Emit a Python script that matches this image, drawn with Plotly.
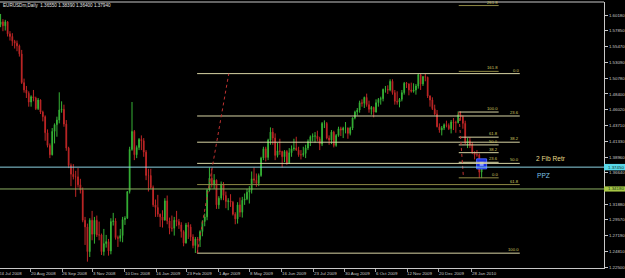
import numpy as np
import plotly.graph_objects as go

# ---------------- data (EURUSDm, 2-trading-day bars from 14 Jul 2008) ----------------
START = '2008-07-14'
first_open = 1.5880
close = [
1.5920,1.5860,1.5920,1.5740,1.5700,1.5630,1.5600,1.5560,1.5440,1.5010,
1.4900,1.4850,1.4720,1.4800,1.4780,1.4620,1.4750,1.4570,1.4500,1.4260,
1.4070,1.3930,1.4280,1.4380,1.4450,1.4600,1.4610,1.4390,1.4030,1.3770,
1.3640,1.3600,1.3600,1.3480,1.3400,1.2950,1.2850,1.2480,1.2950,1.2740,
1.2950,1.2730,1.2730,1.2480,1.2600,1.2630,1.2490,1.2930,1.2940,1.2690,
1.2680,1.2720,1.2960,1.2980,1.3380,1.4010,1.4280,1.3930,1.4040,1.4160,
1.4140,1.3970,1.3620,1.3620,1.3440,1.3180,1.3140,1.3040,1.3000,1.2950,
1.3240,1.2940,1.2830,1.2830,1.2950,1.2930,1.2880,1.2780,1.2610,1.2880,
1.2850,1.2700,1.2570,1.2670,1.2660,1.2780,1.2930,1.3000,1.3400,1.3580,
1.3480,1.3550,1.3180,1.3280,1.3490,1.3320,1.3230,1.3240,1.3220,1.3040,
1.2970,1.3180,1.3070,1.3250,1.3270,1.3370,1.3400,1.3570,1.3550,1.3500,
1.3620,1.3880,1.4020,1.3890,1.4150,1.4270,1.4180,1.3920,1.3990,1.3980,
1.3900,1.3980,1.3800,1.3960,1.4020,1.4030,1.4000,1.3930,1.3930,1.3950,
1.4030,1.4130,1.4200,1.4210,1.4210,1.4170,1.4090,1.4400,1.4400,1.4180,
1.4150,1.4270,1.4070,1.4220,1.4320,1.4300,1.4330,1.4330,1.4250,1.4330,
1.4480,1.4570,1.4600,1.4710,1.4700,1.4790,1.4680,1.4610,1.4640,1.4570,
1.4710,1.4760,1.4770,1.4910,1.4910,1.4900,1.5030,1.4860,1.4730,1.4720,
1.4760,1.4860,1.5000,1.4990,1.4900,1.4880,1.4900,1.4960,1.5130,1.4990,
1.5100,1.5090,1.4810,1.4750,1.4620,1.4540,1.4350,1.4300,1.4330,1.4380,
1.4370,1.4320,1.4420,1.4410,1.4410,1.4530,1.4500,1.4400,1.4110,1.4140,
1.4080,1.3970,1.3930,1.3930,1.3670,1.3794]
high = [
1.6038,1.5960,1.5950,1.5930,1.5780,1.5750,1.5650,1.5640,1.5580,1.5500,
1.5070,1.4960,1.4880,1.4820,1.4900,1.4800,1.4780,1.4760,1.4590,1.4520,
1.4310,1.4100,1.4330,1.4400,1.4500,1.4865,1.4730,1.4680,1.4450,1.4050,
1.3800,1.3790,1.3690,1.3730,1.3570,1.3440,1.3000,1.2900,1.2980,1.3090,
1.3000,1.3020,1.2930,1.2750,1.2820,1.2730,1.2670,1.2980,1.3060,1.2980,
1.2720,1.2820,1.3000,1.3010,1.3380,1.4050,1.4720,1.4300,1.4070,1.4180,
1.4220,1.4180,1.4000,1.3720,1.3720,1.3470,1.3260,1.3330,1.3050,1.3100,
1.3280,1.3320,1.2990,1.3020,1.3000,1.3090,1.2970,1.2920,1.2800,1.2910,
1.2920,1.2890,1.2740,1.2700,1.2700,1.2800,1.2950,1.3050,1.3420,1.3740,
1.3720,1.3640,1.3560,1.3310,1.3530,1.3520,1.3380,1.3280,1.3340,1.3240,
1.3070,1.3220,1.3290,1.3300,1.3350,1.3420,1.3460,1.3680,1.3740,1.3650,
1.3650,1.3900,1.4050,1.4050,1.4170,1.4340,1.4330,1.4250,1.4110,1.4170,
1.3990,1.4000,1.4000,1.4030,1.4070,1.4170,1.4200,1.4050,1.4000,1.4050,
1.4080,1.4160,1.4220,1.4250,1.4270,1.4290,1.4200,1.4420,1.4445,1.4420,
1.4220,1.4300,1.4290,1.4240,1.4350,1.4350,1.4350,1.4420,1.4340,1.4350,
1.4490,1.4590,1.4630,1.4740,1.4760,1.4800,1.4845,1.4740,1.4660,1.4650,
1.4760,1.4780,1.4800,1.4920,1.4960,1.4970,1.5060,1.5060,1.4900,1.4880,
1.4780,1.4900,1.5020,1.5020,1.5000,1.5010,1.5000,1.4990,1.5145,1.5140,
1.5110,1.5140,1.5100,1.4820,1.4790,1.4680,1.4600,1.4400,1.4360,1.4400,
1.4440,1.4400,1.4450,1.4480,1.4440,1.4580,1.4580,1.4520,1.4440,1.4180,
1.4190,1.4120,1.3980,1.4000,1.3950,1.3839]
low = [
1.5840,1.5780,1.5790,1.5700,1.5640,1.5560,1.5520,1.5480,1.5400,1.4990,
1.4860,1.4780,1.4650,1.4650,1.4730,1.4600,1.4600,1.4540,1.4430,1.4140,
1.4040,1.3880,1.3920,1.4100,1.4200,1.4400,1.4560,1.4350,1.3990,1.3730,
1.3460,1.3560,1.3300,1.3440,1.3350,1.2920,1.2580,1.2330,1.2400,1.2650,
1.2600,1.2700,1.2650,1.2430,1.2420,1.2540,1.2420,1.2440,1.2870,1.2660,
1.2550,1.2630,1.2620,1.2880,1.2970,1.3350,1.3990,1.3850,1.3880,1.4000,
1.4000,1.3900,1.3550,1.3380,1.3420,1.3150,1.3000,1.3000,1.2850,1.2840,
1.2950,1.2890,1.2740,1.2780,1.2720,1.2860,1.2820,1.2690,1.2560,1.2600,
1.2670,1.2640,1.2530,1.2460,1.2460,1.2550,1.2710,1.2860,1.2950,1.3380,
1.3440,1.3420,1.3120,1.3120,1.3250,1.3250,1.3130,1.3100,1.3150,1.3020,
1.2890,1.2900,1.3000,1.2990,1.3180,1.3250,1.3200,1.3350,1.3500,1.3450,
1.3460,1.3600,1.3850,1.3830,1.3850,1.4080,1.4080,1.3850,1.3890,1.3930,
1.3740,1.3820,1.3780,1.3800,1.3900,1.3990,1.3990,1.3900,1.3860,1.3900,
1.3880,1.4000,1.4060,1.4130,1.4110,1.4130,1.4000,1.4060,1.4330,1.4160,
1.4080,1.4090,1.4040,1.4050,1.4200,1.4210,1.4180,1.4250,1.4170,1.4220,
1.4300,1.4460,1.4520,1.4560,1.4650,1.4630,1.4650,1.4560,1.4530,1.4490,
1.4560,1.4650,1.4680,1.4730,1.4860,1.4840,1.4880,1.4830,1.4680,1.4680,
1.4640,1.4730,1.4830,1.4930,1.4820,1.4860,1.4860,1.4830,1.4920,1.4900,
1.4960,1.5030,1.4780,1.4650,1.4600,1.4520,1.4340,1.4260,1.4220,1.4300,
1.4340,1.4300,1.4250,1.4300,1.4260,1.4400,1.4440,1.4320,1.4090,1.4030,
1.4030,1.3940,1.3860,1.3900,1.3580,1.3580]

x_tick_dates = ['2008-07-24', '2008-08-20', '2008-09-26', '2008-11-03', '2008-12-10',
                '2009-01-16', '2009-02-23', '2009-04-01', '2009-05-08', '2009-06-16',
                '2009-07-23', '2009-08-30', '2009-10-06', '2009-11-12', '2009-12-20',
                '2010-01-28']
x_tick_text = ['24 Jul 2008', '20 Aug 2008', '26 Sep 2008', '3 Nov 2008', '10 Dec 2008',
               '16 Jan 2009', '23 Feb 2009', '1 Apr 2009', '8 May 2009', '16 Jun 2009',
               '23 Jul 2009', '30 Aug 2009', '6 Oct 2009', '12 Nov 2009', '20 Dec 2009',
               '28 Jan 2010']
y_tick_vals = [1.60180, 1.57850, 1.55470, 1.53090, 1.50780, 1.48400, 1.46020, 1.43710,
               1.41330, 1.38960, 1.36640, 1.31880, 1.29570, 1.27190, 1.24810, 1.22500]

header_text = 'EURUSDm,Daily  1.36550 1.38390 1.36400 1.37940'

# Fibonacci objects: point1 (100%), point2 (0%)
fibA_prices = [1.2457, 1.5145]
fibA_dates = ['2009-03-05', '2009-04-13']
fibA_end = '2010-03-25'
fibA_levels = [0.0, 23.6, 38.2, 50.0, 61.8, 100.0]
fibB_prices = [1.4570, 1.3585]
fibB_dates = ['2010-01-12', '2010-01-18']
fibB_end = '2010-03-01'
fibB_levels = [0.0, 23.6, 38.2, 50.0, 61.8, 100.0, 161.8, 261.8]

cyan_price = 1.3745
cyan_label = '1.37450'
green_price = 1.3418
green_label = '1.34180'

# ---------------- geometry helpers ----------------
PX_PER_DAY = 1.1733
PLOT_W, PLOT_TOP, PLOT_BOT = 604, 2, 268


def day_index(date):
    return float(np.busday_count(START, date))


def xp(px):
    return px / PLOT_W


def yp(py):
    return (PLOT_BOT - py) / (PLOT_BOT - PLOT_TOP)


n = min(len(close), len(high), len(low))
x_bar = [2 * k + 0.5 for k in range(n)]
opens = [first_open] + close[:n - 1]

fig = go.Figure()
fig.add_trace(go.Candlestick(
    x=x_bar, open=opens, high=high[:n], low=low[:n], close=close[:n],
    increasing=dict(line=dict(color='#36B236', width=1), fillcolor='#36B236'),
    decreasing=dict(line=dict(color='#BE2626', width=1), fillcolor='#BE2626'),
    whiskerwidth=0, hoverinfo='skip', showlegend=False))

shapes = []
annotations = []
FIB_LINE = '#D8D4A4'
FIB_TEXT = '#D2C862'


def add_fib(prices, dates, end, levels, olive_levels):
    p1, p2 = prices
    x0 = day_index(dates[0])
    x1 = day_index(end)
    for lv in levels:
        price = p2 + (p1 - p2) * lv / 100.0
        col = '#8E8844' if lv in olive_levels else FIB_LINE
        shapes.append(dict(type='line', xref='x', yref='y', x0=x0, x1=x1, y0=price, y1=price,
                           line=dict(color=col, width=1), layer='above'))
        annotations.append(dict(x=x1, y=price, xref='x', yref='y', xanchor='right',
                                yanchor='bottom', text=f'{lv:.1f}', showarrow=False,
                                borderpad=0, font=dict(size=4.2, color=FIB_TEXT,
                                                      family='Liberation Sans')))
    shapes.append(dict(type='line', xref='x', yref='y', x0=day_index(dates[0]), y0=p1,
                       x1=day_index(dates[1]), y1=p2,
                       line=dict(color='#C03232', width=1, dash='dot'), layer='above'))


add_fib(fibA_prices, fibA_dates, fibA_end, fibA_levels, [61.8])
add_fib(fibB_prices, fibB_dates, fibB_end, fibB_levels, [0.0, 161.8, 261.8])

# full width horizontal lines
shapes.append(dict(type='line', xref='paper', yref='y', x0=0, x1=1, y0=green_price,
                   y1=green_price, line=dict(color='#8CAE62', width=1)))
shapes.append(dict(type='line', xref='paper', yref='y', x0=0, x1=1, y0=cyan_price,
                   y1=cyan_price, line=dict(color='#8CD2E2', width=1)))
# top border
shapes.append(dict(type='line', xref='paper', yref='paper', x0=0, x1=1, y0=1, y1=1,
                   line=dict(color='#C8C8C8', width=1)))

# price label boxes on the right axis
PPX = (1.6217 - 1.2235) / (PLOT_BOT - PLOT_TOP)
for price, txt, col, half in [(cyan_price, cyan_label, '#58D8EA', 3.2),
                              (green_price, green_label, '#A8C846', 2.6)]:
    shapes.append(dict(type='rect', xref='paper', yref='y', x0=1.0, x1=xp(625),
                       y0=price - half * PPX, y1=price + half * PPX,
                       fillcolor=col, line=dict(width=0), layer='above'))
    annotations.append(dict(x=xp(607), y=price, xref='paper', yref='y', xanchor='left',
                            yanchor='middle', text=txt, showarrow=False, borderpad=0,
                            font=dict(size=4.4, color='#10301A', family='Liberation Sans')))

# x-axis labels
for d, t in zip(x_tick_dates, x_tick_text):
    dx = day_index(d)
    if dx * PX_PER_DAY < 20:
        annotations.append(dict(x=xp(-2), y=yp(273), xref='paper', yref='paper',
                                xanchor='left', yanchor='middle', text=t, showarrow=False,
                                borderpad=0, font=dict(size=4.4, color='#C8C8C8',
                                                      family='Liberation Sans')))
    else:
        annotations.append(dict(x=dx - 1.6, y=yp(273), xref='x', yref='paper',
                                xanchor='left', yanchor='middle', text=t, showarrow=False,
                                borderpad=0, font=dict(size=4.4, color='#C8C8C8',
                                                      family='Liberation Sans')))

# header
annotations.append(dict(x=xp(2), y=yp(5.8), xref='paper', yref='paper', xanchor='left',
                        yanchor='middle', text=header_text, showarrow=False, borderpad=0,
                        font=dict(size=4.6, color='#E4E4E4', family='Liberation Sans')))
# text objects
annotations.append(dict(x=xp(535), y=yp(158), xref='paper', yref='paper', xanchor='left',
                        yanchor='middle', text='2 Fib Retr', showarrow=False, borderpad=0,
                        font=dict(size=6.6, color='#E6DA8A', family='Liberation Sans')))
annotations.append(dict(x=xp(536), y=yp(175.5), xref='paper', yref='paper', xanchor='left',
                        yanchor='middle', text='PPZ', showarrow=False, borderpad=0,
                        font=dict(size=6.6, color='#7CC4EA', family='Liberation Sans')))

# crosshair box at the last close
fig.add_trace(go.Scatter(x=[x_bar[-1]], y=[close[n - 1]], mode='markers',
                         marker=dict(symbol='square', size=10, color='#1A2EE6',
                                     line=dict(color='#4A66FF', width=1)),
                         hoverinfo='skip', showlegend=False))
fig.add_trace(go.Scatter(x=[x_bar[-1]], y=[close[n - 1]], mode='markers',
                         marker=dict(symbol='square', size=4, color='#8AA0FF'),
                         hoverinfo='skip', showlegend=False))

tick_x = [day_index(d) - 1.0 for d in x_tick_dates[1:]]

fig.update_layout(
    width=625, height=278,
    margin=dict(l=0, r=21, t=PLOT_TOP, b=278 - PLOT_BOT),
    paper_bgcolor='black', plot_bgcolor='black',
    boxgap=0.55,
    shapes=shapes, annotations=annotations,
    xaxis=dict(range=[0, PLOT_W / PX_PER_DAY], showgrid=False, zeroline=False,
               rangeslider=dict(visible=False), showline=True, linecolor='#C8C8C8',
               linewidth=1, tickvals=tick_x, ticktext=['' for _ in tick_x],
               ticks='outside', ticklen=3, tickcolor='#A0A0A0', showticklabels=False),
    yaxis=dict(side='right', range=[1.2235, 1.6217], showgrid=False, zeroline=False,
               showline=True, linecolor='#C8C8C8', linewidth=1,
               tickvals=y_tick_vals, ticktext=[f'{v:.5f}' for v in y_tick_vals],
               ticks='outside', ticklen=3, tickcolor='#C8C8C8',
               tickfont=dict(size=4.4, color='#C8C8C8', family='Liberation Sans')),
)

fig.write_html('out.html')
